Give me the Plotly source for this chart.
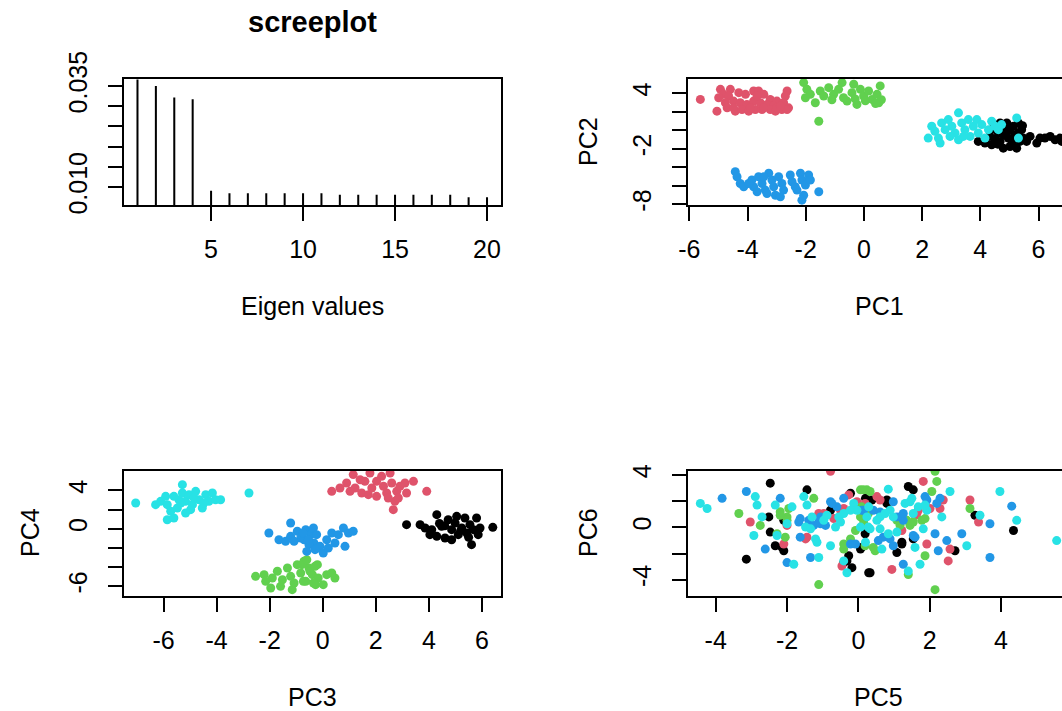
import plotly.graph_objects as go

# ---------------- data ----------------
eig_index = list(range(1, 21))
eig_values = [0.0366, 0.0350, 0.0321, 0.0317, 0.0091, 0.0085, 0.0085, 0.0085, 0.0085, 0.0085,
              0.0085, 0.0081, 0.0081, 0.0081, 0.0081, 0.0081, 0.0081, 0.0081, 0.0075, 0.0075]

group_names = ["black", "red", "green", "blue", "cyan"]
group_colors = ["#000000", "#DF536B", "#61D04F", "#2297E6", "#28E2E5"]

# PC1 / PC2
pc1_black = [3.93, 4.16, 4.33, 4.51, 4.62, 4.68, 4.79, 4.85, 4.96, 5.02, 5.14, 5.19, 5.31, 5.36, 5.42, 5.48, 5.59, 5.71,
             5.94, 6.05, 6.22, 6.40, 6.57, 6.74, 6.80, 4.68, 4.91, 4.39, 5.25, 4.50, 4.80, 5.00, 5.30, 4.60, 5.10, 4.40, 5.45]
pc2_black = [-1.20, -1.38, -0.66, 0.44, -0.29, -1.20, -1.93, 0.07, -0.84, -1.75, 0.44, -0.47, 0.80, -1.20, 0.07, -0.84, -1.20, -0.66,
             -1.38, -0.84, -0.84, -0.66, -1.02, -0.84, -1.20, 0.80, 0.80, -1.56, -1.93, -0.90, -0.50, 0.00, -0.30, -1.50, -1.30, 0.10, 0.50]
pc1_red = [-5.62, -5.05, -4.93, -4.59, -4.82, -4.65, -4.30, -4.07, -3.79, -3.62, -3.44, -3.22, -2.99, -2.64, -2.70, -4.76, -4.48,
           -4.25, -4.02, -3.79, -3.56, -3.33, -3.10, -2.76, -2.59, -4.70, -4.42, -4.19, -3.96, -3.73, -3.50, -3.22, -3.04, -2.82,
           -2.64, -4.99, -4.48, -3.90, -3.67, -3.44, -2.99, -2.87]
pc2_red = [3.34, 2.07, 4.43, 4.43, 3.89, 3.71, 4.07, 3.89, 4.25, 4.25, 3.89, 3.34, 3.16, 4.25, 3.71, 2.98, 3.16,
           2.98, 2.80, 3.16, 2.98, 2.80, 2.62, 2.98, 2.43, 2.43, 2.07, 2.25, 2.07, 2.25, 2.25, 2.25, 2.07, 2.25,
           2.25, 3.52, 2.43, 2.43, 3.71, 2.43, 2.43, 2.62]
pc1_green = [-2.07, -1.96, -2.01, -1.84, -1.67, -1.50, -1.38, -1.21, -1.04, -0.87, -0.70, -0.58, -0.41, -0.24, -0.12, -0.01,
             0.16, 0.28, 0.45, 0.51, 0.56, -0.35, -0.75, -1.55, 0.60, 0.40, -1.10, -0.30, 0.05]
pc2_green = [5.16, 4.43, 3.52, 3.89, 2.98, 4.25, 3.71, 4.61, 3.89, 4.43, 3.52, 3.16, 4.07, 2.80, 4.43, 3.71,
             4.25, 3.34, 3.89, 2.98, 4.80, 4.98, 5.16, 0.98, 3.30, 2.90, 3.30, 3.40, 3.20]
pc1_blue = [-4.42, -4.36, -4.25, -4.13, -3.85, -3.79, -3.62, -3.50, -3.39, -3.27, -3.16, -3.10, -3.04, -2.93, -2.82, -2.76,
            -2.53, -2.47, -2.36, -2.30, -2.18, -2.13, -2.07, -2.13, -2.01, -1.90, -1.84, -1.55, -3.67, -3.33, -2.87, -3.96, -3.44]
pc2_blue = [-4.47, -5.02, -5.75, -6.11, -5.38, -6.11, -5.02, -5.75, -6.47, -4.65, -5.38, -6.11, -7.02, -5.02, -5.75, -6.47,
            -4.84, -5.56, -6.11, -6.47, -4.65, -5.38, -7.02, -7.56, -5.93, -4.84, -5.38, -6.65, -6.65, -6.84, -7.20, -5.75, -5.02]
pc1_cyan = [2.21, 2.33, 2.44, 2.56, 2.67, 2.79, 2.90, 3.02, 3.13, 3.25, 3.25, 3.36, 3.47, 3.59, 3.65, 3.76, 3.88, 3.93, 4.05,
            4.16, 4.28, 4.39, 4.51, 4.62, 4.73, 5.25, 5.31, 2.62, 2.96, 3.42]
pc2_cyan = [-0.84, 0.44, -0.11, -0.84, 0.80, 0.07, 1.16, 0.44, -0.29, 1.89, -1.02, 0.80, 0.07, 1.16, -0.66, 0.44, 1.16, -0.29, 0.62,
            -0.84, 0.07, 0.98, 0.44, 0.07, 0.62, 1.34, -0.84, -1.38, -0.66, -0.66]

# PC3 / PC4
pc3_black = [3.16, 3.67, 3.86, 4.11, 4.30, 4.30, 4.48, 4.61, 4.73, 4.86, 4.99, 5.11, 5.24, 5.36, 5.43, 5.55, 5.61, 5.68, 5.80,
             5.86, 5.93, 6.41, 4.04, 5.05, 4.86, 4.60, 5.20, 5.50, 4.40]
pc4_black = [0.42, 0.42, 0.07, -0.10, 1.47, -0.80, 0.25, -0.97, 0.94, -0.10, 0.60, -0.62, 0.07, 1.12, -0.45, 0.42, -1.67, -0.10, 1.12,
             -0.62, 0.07, 0.14, -0.62, 1.29, -1.15, 0.30, -0.20, -0.90, 0.55]
pc3_red = [0.34, 0.65, 0.90, 1.15, 1.22, 1.47, 1.59, 1.78, 1.85, 2.03, 2.22, 2.29, 2.41, 2.54, 2.60, 2.72, 2.66, 2.79, 2.91,
           3.10, 3.16, 3.42, 3.92, 1.41, 2.03, 2.47, 2.85, 1.03, 1.72]
pc4_red = [3.90, 4.25, 4.78, 5.65, 4.25, 3.73, 4.95, 5.82, 4.25, 3.38, 5.47, 4.43, 3.73, 5.82, 4.78, 2.86, 1.99, 3.90, 4.43,
           4.78, 3.73, 4.95, 3.90, 5.12, 4.95, 3.21, 3.21, 3.90, 3.56]
pc3_green = [-2.53, -2.21, -1.96, -1.90, -1.71, -1.52, -1.33, -1.21, -1.08, -0.96, -0.83, -0.71, -0.64, -0.52, -0.39, -0.27,
             -0.20, -1.59, -1.15, -2.15, -0.79, -0.60, -0.48, -0.29, -0.17, 0.02, 0.15, 0.34, 0.46, -0.73, -0.35]
pc4_green = [-4.98, -4.80, -6.20, -5.15, -4.45, -5.33, -4.11, -4.98, -5.67, -3.76, -4.63, -3.41, -5.50, -4.11, -4.80, -5.85,
             -3.76, -6.02, -6.37, -5.50, -3.76, -3.24, -4.45, -3.93, -5.15, -5.85, -4.80, -4.63, -5.15, -5.50, -5.67]
pc3_blue = [-2.03, -1.21, -1.65, -1.40, -1.21, -0.96, -0.83, -0.64, -0.45, -0.33, -0.20, -0.52, -0.70, -1.08, -0.73, -0.54,
            -0.35, -0.23, -0.10, 0.02, 0.15, 0.34, 0.46, 0.59, 0.78, 0.84, 0.97, 1.15, -0.60, -0.29, 0.21]
pc4_blue = [-0.45, 0.60, -1.15, -1.32, -0.80, -0.27, -0.97, -0.10, -0.62, -1.49, -2.02, -1.67, -1.15, -1.32, -0.45, -1.15,
            0.07, -0.62, -1.84, -2.54, -1.15, -0.45, -1.49, -0.62, 0.07, -1.84, -0.45, -0.27, -2.37, -2.19, -2.02]
pc3_cyan = [-7.05, -2.78, -6.30, -6.11, -5.92, -5.86, -5.73, -5.86, -5.61, -5.48, -5.42, -5.29, -5.29, -5.17, -5.17, -5.04,
            -4.91, -4.79, -4.66, -4.54, -4.41, -4.29, -4.16, -4.04, -3.85, -5.61, -4.98, -4.48, -4.85, -5.35]
pc4_cyan = [2.69, 3.73, 2.51, 2.86, 3.38, 2.51, 1.82, 0.94, 1.12, 2.16, 3.03, 4.60, 3.73, 2.86, 1.64, 3.56,
            2.51, 3.90, 3.03, 2.16, 3.56, 2.86, 3.73, 3.03, 3.03, 3.38, 1.99, 2.69, 3.21, 2.69]

# PC5 / PC6
pc5_black = [-3.14, -2.47, -2.51, -2.47, -2.33, -2.14, -2.09, -1.44, -0.78, -0.32, -0.18, 0.06, 0.29, -0.22, 0.20,
             1.40, 1.54, 0.80, 0.33, 1.08, 1.22, 1.54, 2.71, 3.27, 4.35, 0.23, 0.09,
             -2.09, -0.41, -0.27, 0.38, 0.80, 1.22, 0.19]
pc6_black = [-2.43, 3.38, 0.80, -0.36, -1.40, -1.53, -1.79, 2.87, 1.31, -2.56, -3.08, -1.66, -3.47, 2.61, 2.22,
             3.12, 2.87, 2.09, -3.47, -1.92, -1.27, -0.88, -1.79, 0.93, -0.24, 1.06, -1.53,
             0.54, -2.69, -2.17, 2.09, 1.83, -1.14, -0.49]
pc5_red = [-3.03, -2.09, -2.00, -1.48, -1.11, -0.78, -0.69, -0.46, -0.27, -0.50, -0.04,
           1.82, 2.38, 2.29, 1.59, 1.92, 2.57, 2.52, 0.94, 3.13, 3.37, 0.52, 0.23,
           -0.97, -1.44, 0.06, -0.41, 0.19, 0.61, 1.68, 2.01, 1.22, 1.64]
pc6_red = [0.41, -1.27, 0.15, -0.88, 1.06, 4.29, 0.67, -2.95, 2.48, 1.31, 1.96,
           3.51, 2.09, 1.44, 0.93, -1.27, -1.66, -2.56, -3.21, 2.09, 0.41, 2.35, 1.57,
           1.06, -0.75, 1.44, 1.44, 1.83, 2.09, 1.31, 1.44, -0.24, 1.06]
pc5_green = [-3.35, -2.75, -2.28, -2.19, -2.00, -2.05, -1.25, -1.11, -0.41, -0.22, 0.06, 0.24, 0.15, -0.08,
             2.15, 2.20, 0.14, 0.33, 0.14, 1.17, 1.45, 1.78, 1.87, 3.13, 2.15, 1.40, 0.19, 0.47, 2.06,
             -2.19, -2.00, -1.95, -0.41, 0.06, 0.15, 0.09, 0.28, 1.08, 1.36, 1.54, 1.87, 0.42]
pc6_green = [1.06, 0.15, -0.49, 1.19, 0.80, -0.75, 2.22, -4.37, -1.66, -0.88, 2.87, 2.87, 0.54, -0.24,
             4.29, 3.51, 2.87, 2.74, 0.67, 0.15, 0.15, 0.54, -2.17, 1.44, -4.76, -3.60, -1.40, -1.79, 2.74,
             0.93, 0.54, 1.44, -1.27, 0.80, 0.28, 1.57, 1.06, 0.54, 0.54, 0.41, 0.67, -1.53]
pc5_blue = [-3.82, -3.14, -2.61, -2.19, -2.00, -1.63, -1.63, -1.39, -1.34, -1.25, -1.06, -0.78, -0.60, -0.41, -0.22, 0.10, -1.06,
            0.98, 1.17, 1.26, 1.87, 2.29, 2.15, 2.48, 2.90, 3.69, 4.30, 3.69, 1.26, 0.70, 0.42, 0.98, 1.59, 2.24,
            -1.67, -1.11, -0.92, -0.74, -0.08, 0.15, 1.08, 1.26, 0.61, 1.92, 2.20, 0.89, 1.54, 0.56]
pc6_blue = [2.22, 2.74, -1.66, 2.22, -2.69, 0.67, -0.75, 0.54, -2.30, 0.15, 0.80, 1.96, 1.57, 2.22, -1.27, 1.31, 0.28,
            1.96, 0.80, 0.54, 2.35, 2.22, -0.49, -1.01, -0.49, 0.28, 1.62, -2.30, -2.82, -0.75, 1.31, -1.40, -0.75, -1.79,
            0.41, 0.41, 0.15, 1.83, -1.27, 1.31, 0.80, 1.06, 1.18, 2.09, 1.83, -0.88, -0.62, -1.01]
pc5_cyan = [-4.43, -4.24, -2.89, -2.84, -2.70, -2.93, -2.33, -2.28, -2.00, -1.86, -1.81, -1.53, -1.48, -1.34, -1.16, -1.11,
            -1.30, -0.78, -0.64, -0.55, -0.41, -0.32, -0.13, -0.04, 0.06, 0.24, 0.20,
            0.84, 1.45, 1.54, 1.92, 1.82, 1.59, 1.08, 0.66, 0.33, 2.57, 2.34, 3.04, 3.41, 3.97, 4.44, 5.56, 1.73, 1.40, 0.61, 0.98,
            -1.44, -0.97, -0.88, -0.50, -0.22, 0.29, -1.20, -0.41, 0.52, 0.75, 0.89, 1.31, 1.50, 1.68, 1.87, 0.61, 0.84, 0.28]
pc6_cyan = [1.83, 1.44, 2.35, 1.70, 0.80, -0.62, 1.70, -0.62, 0.28, 1.57, -2.82, 2.35, 0.02, -0.11, -1.14, -2.30,
            0.80, -1.40, 0.02, 0.80, 1.06, -3.47, 1.83, 1.31, 0.02, 0.80, -1.14,
            2.92, 1.96, 1.06, 1.31, -0.11, -1.53, -0.36, -1.66, -0.11, 2.74, 0.80, -1.40, 0.93, 2.74, 0.54, -1.01, -2.82, -3.34, 0.80, 0.80,
            1.70, 0.54, 0.93, 0.41, 1.31, 1.57, -0.88, -2.56, 0.54, 1.06, 1.31, 1.83, 2.22, 1.57, 1.70, -0.11, -0.49, 0.02]

pc12 = {"black": (pc1_black, pc2_black), "red": (pc1_red, pc2_red), "green": (pc1_green, pc2_green),
        "blue": (pc1_blue, pc2_blue), "cyan": (pc1_cyan, pc2_cyan)}
pc34 = {"black": (pc3_black, pc4_black), "red": (pc3_red, pc4_red), "green": (pc3_green, pc4_green),
        "blue": (pc3_blue, pc4_blue), "cyan": (pc3_cyan, pc4_cyan)}
pc56 = {"black": (pc5_black, pc6_black), "red": (pc5_red, pc6_red), "green": (pc5_green, pc6_green),
        "blue": (pc5_blue, pc6_blue), "cyan": (pc5_cyan, pc6_cyan)}

# ---------------- layout helpers ----------------
W, H = 1062, 711
FONT = "Liberation Sans, Arial, sans-serif"
FS = 25


def dx(a, b):
    return [a / W, b / W]


def dy(top, bottom):
    return [1 - bottom / H, 1 - top / H]


def lab(vals, show):
    return [(str(v) if v in show else "") for v in vals]


def axis(domain, rng, tickvals, ticktext, anchor, mirror=True, angle=0, standoff=7):
    return dict(domain=domain, range=rng, tickvals=tickvals, ticktext=ticktext, showline=True,
                linecolor="black", linewidth=1.8, mirror=mirror, ticks="outside", ticklen=14,
                tickwidth=1.6, tickcolor="black", showgrid=False, zeroline=False,
                tickfont=dict(family=FONT, size=FS, color="black"), tickangle=angle, anchor=anchor,
                ticklabelstandoff=standoff, automargin=False, fixedrange=True)


fig = go.Figure()

# Panel 1: screeplot
fig.add_trace(go.Bar(x=eig_index, y=eig_values, width=0.11, marker=dict(color="black", line=dict(width=0)),
                     xaxis="x", yaxis="y", showlegend=False))

# Scatter panels
for (data, xa, ya) in [(pc12, "x2", "y2"), (pc34, "x3", "y3"), (pc56, "x4", "y4")]:
    for name, col in zip(group_names, group_colors):
        xs, ys = data[name]
        fig.add_trace(go.Scatter(x=xs, y=ys, mode="markers", marker=dict(color=col, size=9, line=dict(width=0)),
                                 xaxis=xa, yaxis=ya, showlegend=False))

L1, R1 = 123.5, 501
L2, R2 = 687.5, 1062
T1, B1 = 79, 205
T2, B2 = 470.7, 595.7

x1_ticks = [5, 10, 15, 20]
y1_ticks = [0.010, 0.015, 0.020, 0.025, 0.030, 0.035]
y1_text = ["0.010", "", "", "", "", "0.035"]
x2_ticks = [-6, -4, -2, 0, 2, 4, 6]
y2_ticks = [-8, -6, -4, -2, 0, 2, 4]
x3_ticks = [-6, -4, -2, 0, 2, 4, 6]
y3_ticks = [-6, -4, -2, 0, 2, 4]
x4_ticks = [-4, -2, 0, 2, 4]
y4_ticks = [-4, -2, 0, 2, 4]

fig.update_layout(
    width=W, height=H, margin=dict(l=0, r=0, t=0, b=0, autoexpand=False),
    paper_bgcolor="white", plot_bgcolor="white", showlegend=False,
    font=dict(family=FONT, size=FS, color="black"),
    xaxis=axis(dx(L1, R1), [0.24, 20.76], x1_ticks, lab(x1_ticks, x1_ticks), "y"),
    yaxis=axis(dy(T1, B1), [0.00557, 0.0367], y1_ticks, y1_text, "x", angle=-90, standoff=11),
    xaxis2=axis(dx(L2, R2), [-6.062, 6.807], x2_ticks, lab(x2_ticks, x2_ticks), "y2"),
    yaxis2=axis(dy(T1, B1), [-8.08, 5.55], y2_ticks, lab(y2_ticks, [-8, -2, 4]), "x2",
                mirror=False, angle=-90, standoff=11),
    xaxis3=axis(dx(L1, R1), [-7.51, 6.72], x3_ticks, lab(x3_ticks, x3_ticks), "y3"),
    yaxis3=axis(dy(T2, B2), [-7.0, 6.06], y3_ticks, lab(y3_ticks, [-6, 0, 4]), "x3", angle=-90, standoff=11),
    xaxis4=axis(dx(L2, R2), [-4.79, 5.71], x4_ticks, lab(x4_ticks, x4_ticks), "y4"),
    yaxis4=axis(dy(T2, B2), [-5.22, 4.33], y4_ticks, lab(y4_ticks, [-4, 0, 4]), "x4",
                mirror=False, angle=-90, standoff=11),
)

# Titles and axis labels
labels = [
    ("<b>screeplot</b>", 312, 22, 0, 29),
    ("Eigen values", 312, 306, 0, FS),
    ("PC1", 879, 306, 0, FS),
    ("PC2", 588, 142, -90, FS),
    ("PC3", 312, 697, 0, FS),
    ("PC4", 30, 533, -90, FS),
    ("PC5", 878, 697, 0, FS),
    ("PC6", 588, 533, -90, FS),
]
for text, x, y, ang, size in labels:
    fig.add_annotation(text=text, x=x / W, y=1 - y / H, xref="paper", yref="paper", showarrow=False,
                       xanchor="center", yanchor="middle", textangle=ang,
                       font=dict(family=FONT, size=size, color="black"))

fig.write_html("out.html", config={"displayModeBar": False},
               post_script="document.body.style.margin='0';document.body.style.overflow='hidden';")
